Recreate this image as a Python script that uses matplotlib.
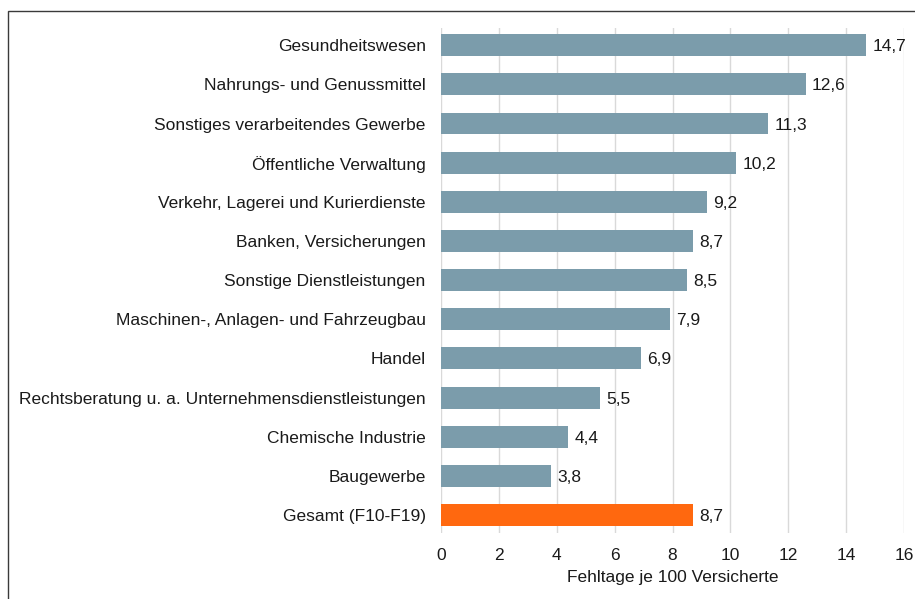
import matplotlib
matplotlib.use("Agg")
import matplotlib.pyplot as plt
from matplotlib.patches import Rectangle

plt.rcParams['font.family'] = ['Liberation Sans', 'DejaVu Sans']

categories = [
    "Gesundheitswesen",
    "Nahrungs- und Genussmittel",
    "Sonstiges verarbeitendes Gewerbe",
    "Öffentliche Verwaltung",
    "Verkehr, Lagerei und Kurierdienste",
    "Banken, Versicherungen",
    "Sonstige Dienstleistungen",
    "Maschinen-, Anlagen- und Fahrzeugbau",
    "Handel",
    "Rechtsberatung u. a. Unternehmensdienstleistungen",
    "Chemische Industrie",
    "Baugewerbe",
    "Gesamt (F10-F19)",
]
values = [14.7, 12.6, 11.3, 10.2, 9.2, 8.7, 8.5, 7.9, 6.9, 5.5, 4.4, 3.8, 8.7]
x_ticks = [0, 2, 4, 6, 8, 10, 12, 14, 16]
x_label = "Fehltage je 100 Versicherte"

bar_color = "#7b9cab"
total_color = "#ff680f"
colors = [bar_color] * (len(values) - 1) + [total_color]
fs = 12.5
txt = "#1a1a1a"

fig = plt.figure(figsize=(9.15, 5.99), dpi=100)
ax = fig.add_axes([441 / 915, 1 - 533 / 599, 463 / 915, 505 / 599])

ypos = list(range(len(categories)))
ax.barh(ypos, values, height=0.56, color=colors, zorder=3)

for y, v in zip(ypos, values):
    ax.text(v + 0.22, y + 0.04, f"{v:.1f}".replace(".", ","), va="center", ha="left",
            fontsize=fs, color=txt, zorder=4)

ax.set_ylim(len(categories) - 0.54, -0.44)
ax.set_xlim(0, 16)
ax.set_xticks(x_ticks)
ax.set_xticklabels([str(t) for t in x_ticks], fontsize=fs, color=txt)
ax.set_yticks(ypos)
ax.set_yticklabels(categories, fontsize=fs, color=txt)
ax.tick_params(axis="both", length=0)
ax.tick_params(axis="x", pad=11)
ax.tick_params(axis="y", pad=11)
ax.set_xlabel(x_label, fontsize=fs, color=txt, labelpad=5)

ax.grid(axis="x", color="#d9d9d9", linewidth=1, zorder=0)
for s in ax.spines.values():
    s.set_visible(False)

# outer frame, open to the right and bottom edges
fig.patches.append(Rectangle((8 / 915, -0.01), 1.0, 1 - 11 / 599 + 0.01,
                             transform=fig.transFigure, fill=False,
                             edgecolor="#3a3a3a", linewidth=1.0))

fig.savefig("out.png", dpi=100)
